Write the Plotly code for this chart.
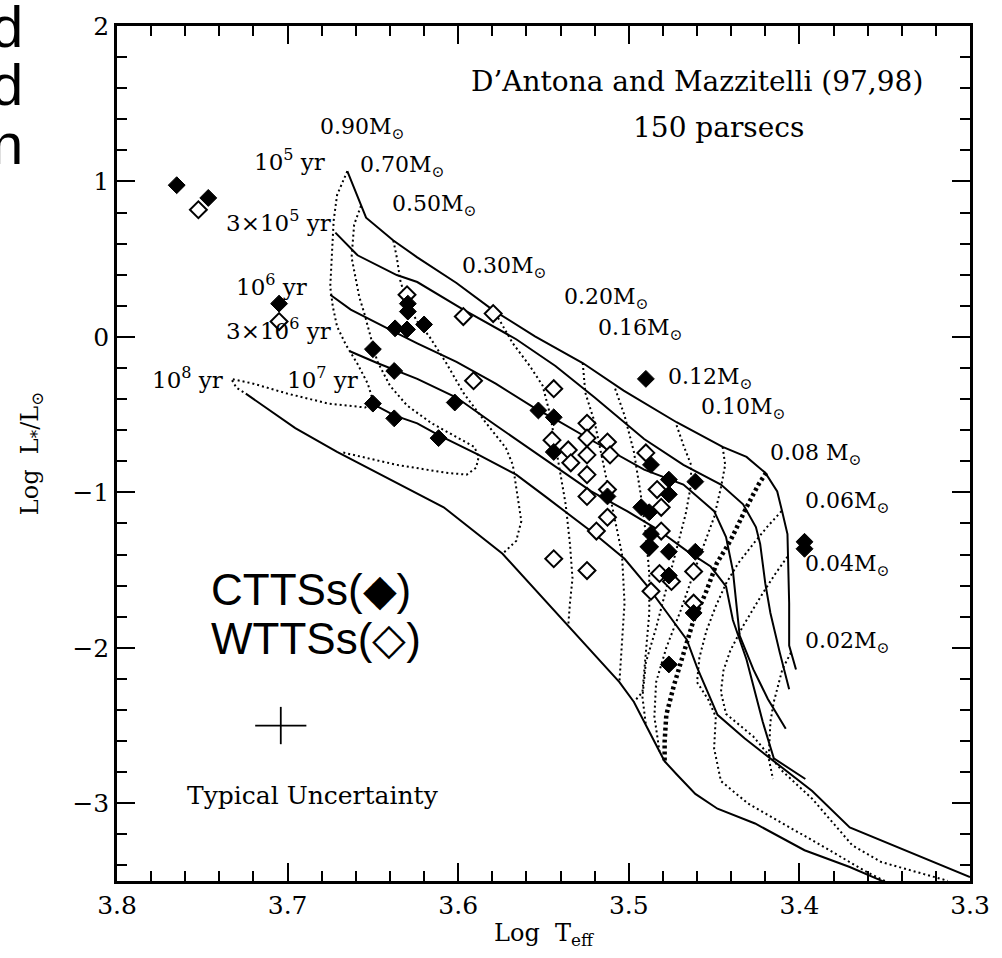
import plotly.graph_objects as go

# ---- isochrones (solid): log Teff, log L/Lsun ----
iso_1e5_t = [3.665, 3.654, 3.638, 3.624, 3.601, 3.580, 3.555, 3.527, 3.503, 3.472, 3.445, 3.431, 3.420, 3.413, 3.410, 3.407, 3.406, 3.406, 3.402]
iso_1e5_l = [1.066, 0.767, 0.620, 0.512, 0.347, 0.176, 0.004, -0.168, -0.346, -0.549, -0.708, -0.772, -0.874, -0.994, -1.128, -1.268, -1.713, -1.986, -2.139]

iso_3e5_t = [3.672, 3.659, 3.636, 3.624, 3.597, 3.566, 3.543, 3.520, 3.491, 3.468, 3.446, 3.433, 3.4255, 3.423, 3.420, 3.417, 3.4115, 3.406]
iso_3e5_l = [0.671, 0.525, 0.398, 0.353, 0.176, -0.015, -0.187, -0.390, -0.657, -0.823, -0.950, -1.077, -1.223, -1.331, -1.586, -1.776, -2.031, -2.266]

iso_1e6_t = [3.675, 3.663, 3.638, 3.624, 3.601, 3.578, 3.553, 3.545, 3.520, 3.491, 3.468, 3.450, 3.443, 3.439, 3.435, 3.427, 3.4185, 3.408]
iso_1e6_l = [0.271, 0.176, 0.036, -0.041, -0.161, -0.301, -0.473, -0.517, -0.676, -0.854, -0.950, -1.121, -1.287, -1.503, -1.922, -2.139, -2.329, -2.520]

iso_3e6_t = [3.6635, 3.6475, 3.624, 3.601, 3.578, 3.553, 3.522, 3.501, 3.4835, 3.466, 3.452, 3.443, 3.439, 3.431, 3.426, 3.4215, 3.415, 3.3965]
iso_3e6_l = [-0.092, -0.168, -0.270, -0.390, -0.568, -0.759, -0.994, -1.121, -1.236, -1.376, -1.477, -1.605, -1.821, -2.075, -2.285, -2.476, -2.711, -2.844]

iso_1e7_t = [3.6515, 3.6375, 3.624, 3.6115, 3.588, 3.566, 3.549, 3.5355, 3.520, 3.5025, 3.489, 3.4775, 3.466, 3.460, 3.452, 3.448, 3.432, 3.415, 3.3925, 3.3705, 3.362, 3.300]
iso_1e7_l = [-0.422, -0.505, -0.556, -0.632, -0.759, -0.886, -1.026, -1.140, -1.268, -1.427, -1.605, -1.776, -1.948, -2.126, -2.329, -2.431, -2.584, -2.730, -2.921, -3.156, -3.194, -3.474]

iso_1e8_t = [3.7245, 3.6955, 3.671, 3.6375, 3.6085, 3.574, 3.5355, 3.5055, 3.497, 3.490, 3.482, 3.479, 3.472, 3.461, 3.448, 3.426, 3.397, 3.3705, 3.353, 3.345]
iso_1e8_l = [-0.365, -0.587, -0.740, -0.931, -1.096, -1.395, -1.859, -2.221, -2.348, -2.495, -2.666, -2.730, -2.813, -2.940, -3.035, -3.130, -3.302, -3.410, -3.493, -3.530]

# ---- evolutionary tracks (dotted) ----
trk_090_t = [3.665, 3.671, 3.673, 3.674, 3.675, 3.6735, 3.671, 3.666, 3.659, 3.653, 3.650, 3.6545, 3.676, 3.700, 3.720, 3.733, 3.730, 3.7245]
trk_090_l = [1.066, 0.913, 0.748, 0.512, 0.322, 0.195, 0.067, -0.047, -0.174, -0.301, -0.409, -0.454, -0.429, -0.365, -0.301, -0.270, -0.327, -0.365]

trk_070_t = [3.657, 3.661, 3.6625, 3.661, 3.658, 3.655, 3.6515, 3.6475, 3.640, 3.630, 3.6155, 3.601, 3.5905, 3.588, 3.5895, 3.595, 3.607, 3.636, 3.669]
trk_070_l = [0.843, 0.722, 0.512, 0.430, 0.258, 0.150, 0.004, -0.155, -0.314, -0.441, -0.556, -0.645, -0.708, -0.772, -0.842, -0.886, -0.874, -0.823, -0.740]

trk_050_t = [3.638, 3.636, 3.634, 3.630, 3.624, 3.617, 3.607, 3.597, 3.584, 3.572, 3.568, 3.566, 3.563, 3.566, 3.574]
trk_050_l = [0.620, 0.512, 0.366, 0.214, 0.099, 0.004, -0.168, -0.359, -0.549, -0.715, -0.823, -0.969, -1.185, -1.312, -1.395]

trk_030_t = [3.580, 3.576, 3.568, 3.558, 3.5505, 3.546, 3.543, 3.540, 3.537, 3.5345, 3.533, 3.5345, 3.5355]
trk_030_l = [0.176, 0.112, -0.041, -0.187, -0.314, -0.505, -0.696, -0.886, -1.077, -1.331, -1.554, -1.713, -1.859]

trk_020_t = [3.527, 3.5255, 3.520, 3.516, 3.510, 3.504, 3.5025, 3.504, 3.5055]
trk_020_l = [-0.168, -0.359, -0.549, -0.759, -1.077, -1.395, -1.713, -1.967, -2.221]

trk_016_t = [3.508, 3.5025, 3.497, 3.493, 3.490, 3.488, 3.488, 3.490, 3.492, 3.497]
trk_016_l = [-0.333, -0.505, -0.740, -1.013, -1.268, -1.522, -1.776, -2.031, -2.285, -2.348]

trk_012_t = [3.472, 3.468, 3.4635, 3.4635, 3.4667, 3.472, 3.478, 3.484, 3.490, 3.492, 3.490]
trk_012_l = [-0.568, -0.696, -0.823, -0.950, -1.141, -1.363, -1.617, -1.872, -2.094, -2.317, -2.495]

trk_010_t = [3.445, 3.4435, 3.446, 3.450, 3.460, 3.4695, 3.478, 3.484, 3.485, 3.482]
trk_010_l = [-0.708, -0.823, -0.969, -1.160, -1.458, -1.757, -1.999, -2.221, -2.444, -2.666]

trk_008_t = [3.4195, 3.424, 3.431, 3.4405, 3.4485, 3.455, 3.462, 3.468, 3.4735, 3.478, 3.479, 3.479]
trk_008_l = [-0.874, -0.950, -1.096, -1.312, -1.458, -1.649, -1.821, -2.031, -2.240, -2.431, -2.603, -2.730]

trk_006_t = [3.4105, 3.4185, 3.427, 3.436, 3.443, 3.449, 3.4545, 3.4586, 3.460, 3.4533, 3.449, 3.450, 3.446, 3.430, 3.3925, 3.3595, 3.349]
trk_006_l = [-1.121, -1.217, -1.331, -1.458, -1.586, -1.732, -1.891, -2.062, -2.221, -2.336, -2.444, -2.647, -2.857, -3.003, -3.238, -3.448, -3.505]

trk_004_t = [3.407, 3.414, 3.4215, 3.433, 3.4405, 3.4445, 3.446, 3.443, 3.427, 3.410, 3.3925, 3.369, 3.352, 3.313]
trk_004_l = [-1.414, -1.522, -1.649, -1.859, -2.018, -2.145, -2.285, -2.425, -2.571, -2.793, -2.971, -3.270, -3.378, -3.499]

trk_002_t = [3.405, 3.410, 3.415, 3.417, 3.418, 3.4155]
trk_002_l = [-2.031, -2.139, -2.348, -2.476, -2.711, -2.844]

# ---- stars ----
ctts_t = [3.765, 3.7465, 3.705, 3.650, 3.6375, 3.650, 3.6375, 3.6295, 3.6295, 3.637, 3.630, 3.620,
          3.602, 3.6115, 3.553, 3.544, 3.490, 3.544, 3.487, 3.4765, 3.4765, 3.461, 3.5125, 3.488,
          3.4927, 3.487, 3.488, 3.4765, 3.461, 3.4765, 3.462, 3.4765, 3.397, 3.397]
ctts_l = [0.976, 0.894, 0.214, -0.079, -0.219, -0.429, -0.524, 0.214, 0.163, 0.055, 0.048, 0.080,
          -0.422, -0.651, -0.473, -0.517, -0.270, -0.740, -0.823, -0.918, -1.013, -0.931, -1.026, -1.128,
          -1.096, -1.268, -1.350, -1.382, -1.382, -1.535, -1.776, -2.107, -1.318, -1.363]

wtts_t = [3.7523, 3.705, 3.630, 3.597, 3.5795, 3.591, 3.544, 3.5245, 3.5245, 3.5125, 3.5355, 3.545,
          3.5245, 3.511, 3.534, 3.490, 3.5245, 3.5245, 3.5125, 3.5125, 3.519, 3.544, 3.5245, 3.481,
          3.481, 3.488, 3.482, 3.475, 3.487, 3.462, 3.462, 3.4834]
wtts_l = [0.818, 0.099, 0.271, 0.131, 0.150, -0.282, -0.333, -0.556, -0.651, -0.676, -0.727, -0.664,
          -0.759, -0.759, -0.810, -0.746, -0.886, -1.026, -0.982, -1.160, -1.249, -1.427, -1.503, -1.096,
          -1.249, -1.350, -1.522, -1.573, -1.636, -1.509, -1.713, -0.982]

# ---- labels ----
mass_labels = ["0.90", "0.70", "0.50", "0.30", "0.20", "0.16", "0.12", "0.10", "0.08 ", "0.06", "0.04", "0.02"]
mass_lab_t = [3.682, 3.659, 3.640, 3.599, 3.539, 3.519, 3.478, 3.459, 3.4186, 3.398, 3.398, 3.398]
mass_lab_l = [1.339, 1.097, 0.843, 0.449, 0.245, 0.048, -0.270, -0.460, -0.759, -1.064, -1.471, -1.967]

age_labels = ["10<sup>5</sup> yr", "3×10<sup>5</sup> yr", "10<sup>6</sup> yr",
              "3×10<sup>6</sup> yr", "10<sup>7</sup> yr", "10<sup>8</sup> yr"]
age_lab_t = [3.721, 3.7373, 3.7315, 3.7373, 3.7013, 3.7807]
age_lab_l = [1.135, 0.748, 0.334, 0.048, -0.263, -0.263]

# typical error bar
err_t, err_l = [3.704], [-2.50]
err_dt, err_dl = [0.015], [0.12]

SERIF = "DejaVu Serif"
INK = "black"

fig = go.Figure()

isochrones = [(iso_1e5_t, iso_1e5_l), (iso_3e5_t, iso_3e5_l), (iso_1e6_t, iso_1e6_l),
              (iso_3e6_t, iso_3e6_l), (iso_1e7_t, iso_1e7_l), (iso_1e8_t, iso_1e8_l)]
for t, l in isochrones:
    fig.add_trace(go.Scatter(x=t, y=l, mode="lines", line=dict(color=INK, width=2),
                             hoverinfo="skip", showlegend=False))

tracks = [(trk_090_t, trk_090_l), (trk_070_t, trk_070_l), (trk_050_t, trk_050_l),
          (trk_030_t, trk_030_l), (trk_020_t, trk_020_l), (trk_016_t, trk_016_l),
          (trk_012_t, trk_012_l), (trk_010_t, trk_010_l), (trk_006_t, trk_006_l),
          (trk_004_t, trk_004_l), (trk_002_t, trk_002_l)]
for t, l in tracks:
    fig.add_trace(go.Scatter(x=t, y=l, mode="lines",
                             line=dict(color=INK, width=2, dash="2px,3px"),
                             hoverinfo="skip", showlegend=False))

# hydrogen-burning limit track drawn heavier
fig.add_trace(go.Scatter(x=trk_008_t, y=trk_008_l, mode="lines",
                         line=dict(color=INK, width=4.5, dash="3px,3px"),
                         hoverinfo="skip", showlegend=False))

fig.add_trace(go.Scatter(x=wtts_t, y=wtts_l, mode="markers", name="WTTSs",
                         marker=dict(symbol="diamond", size=13, color="white",
                                     line=dict(color=INK, width=2)),
                         showlegend=False))
fig.add_trace(go.Scatter(x=ctts_t, y=ctts_l, mode="markers", name="CTTSs",
                         marker=dict(symbol="diamond", size=13, color=INK,
                                     line=dict(color=INK, width=1)),
                         showlegend=False))

fig.add_trace(go.Scatter(x=err_t, y=err_l, mode="markers",
                         marker=dict(size=1, color="rgba(0,0,0,0)"),
                         error_x=dict(type="data", array=err_dt, width=0, thickness=1.8, color=INK),
                         error_y=dict(type="data", array=err_dl, width=0, thickness=1.8, color=INK),
                         hoverinfo="skip", showlegend=False))

ann = []
for txt, t, l in zip(mass_labels, mass_lab_t, mass_lab_l):
    ann.append(dict(x=t, y=l, xref="x", yref="y", text=txt + "M<sub>⊙</sub>",
                    showarrow=False, xanchor="left", yanchor="middle",
                    font=dict(family=SERIF, size=22, color=INK)))
for txt, t, l in zip(age_labels, age_lab_t, age_lab_l):
    ann.append(dict(x=t, y=l, xref="x", yref="y", text=txt,
                    showarrow=False, xanchor="left", yanchor="middle",
                    font=dict(family=SERIF, size=23, color=INK)))

ann += [
    dict(x=3.3265, y=1.644, xref="x", yref="y", text="D’Antona and Mazzitelli (97,98)",
         showarrow=False, xanchor="right", yanchor="middle",
         font=dict(family=SERIF, size=28, color=INK)),
    dict(x=3.4473, y=1.35, xref="x", yref="y", text="150 parsecs",
         showarrow=False, xanchor="center", yanchor="middle",
         font=dict(family=SERIF, size=28, color=INK)),
    dict(x=3.6854, y=-2.952, xref="x", yref="y", text="Typical Uncertainty",
         showarrow=False, xanchor="center", yanchor="middle",
         font=dict(family=SERIF, size=25, color=INK)),
    dict(x=3.746, y=-1.625, xref="x", yref="y", text="CTTSs(◆)",
         showarrow=False, xanchor="left", yanchor="middle",
         font=dict(family="Liberation Sans", size=44, color=INK)),
    dict(x=3.746, y=-1.943, xref="x", yref="y", text="WTTSs(◇)",
         showarrow=False, xanchor="left", yanchor="middle",
         font=dict(family="Liberation Sans", size=44, color=INK)),
    dict(x=0.5, y=-0.0624, xref="paper", yref="paper", text="Log  T<sub>eff</sub>",
         showarrow=False, xanchor="center", yanchor="middle",
         font=dict(family=SERIF, size=24, color=INK)),
    dict(x=-0.1, y=0.5, xref="paper", yref="paper", text="Log  L<sub>*</sub>/L<sub>⊙</sub>",
         showarrow=False, xanchor="center", yanchor="middle", textangle=-90,
         font=dict(family=SERIF, size=24, color=INK)),
]

# fragments of neighbouring page text at the left edge
for ch, py in [("d", 0.999), ("d", 0.932), ("n", 0.862)]:
    ann.append(dict(x=-0.108, y=py, xref="paper", yref="paper", text=ch,
                    showarrow=False, xanchor="right", yanchor="middle",
                    font=dict(family="Liberation Sans", size=58, color=INK)))

axis_common = dict(showline=True, linewidth=2.5, linecolor=INK, mirror="ticks",
                   ticks="inside", ticklen=18, tickwidth=2, tickcolor=INK,
                   showgrid=False, zeroline=False,
                   tickfont=dict(family=SERIF, size=25, color=INK))

fig.update_layout(
    width=1002, height=958,
    margin=dict(l=117, r=22, t=16, b=77),
    paper_bgcolor="white", plot_bgcolor="white",
    annotations=ann,
    xaxis=dict(range=[3.8, 3.3], tick0=3.3, dtick=0.1, tickformat=".1f",
               minor=dict(dtick=0.02, ticklen=10, tickwidth=2, ticks="inside", tickcolor=INK),
               **axis_common),
    yaxis=dict(range=[-3.5, 2], tick0=0, dtick=1,
               minor=dict(dtick=0.2, ticklen=10, tickwidth=2, ticks="inside", tickcolor=INK),
               **axis_common),
)

fig.write_html("out.html")
